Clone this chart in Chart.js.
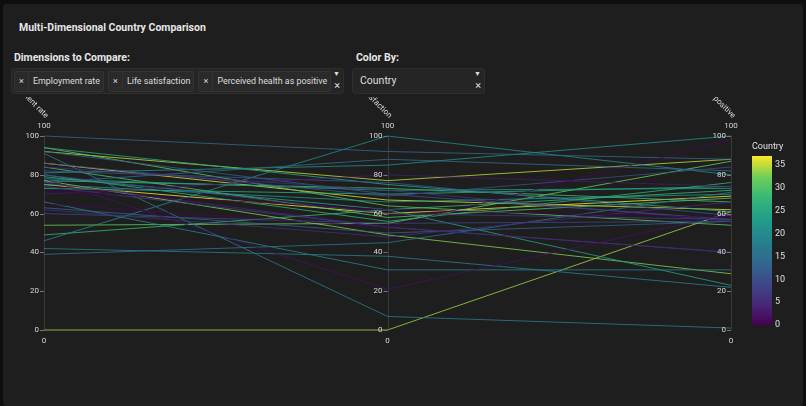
<!DOCTYPE html>
<html>
<head>
<meta charset="utf-8">
<script src="https://cdn.jsdelivr.net/npm/chart.js@4/dist/chart.umd.min.js"></script>
<style>
  html, body { margin: 0; padding: 0; background: #0e0e0e; }
  body { width: 806px; height: 406px; overflow: hidden; font-family: Roboto, "Noto Sans", sans-serif; color: #e6e6e6; }
  #card { position: absolute; left: 3px; top: 4px; width: 800px; height: 402px; background: #1e1e1e; border-radius: 3px; }
  .title { position: absolute; left: 19px; top: 21px; font-size: 10.5px; font-weight: bold; }
  .label { position: absolute; top: 51px; font-size: 10.5px; font-weight: bold; }
  .box { position: absolute; top: 68px; height: 24px; background: #252525; border: 1px solid #2e2e2e; border-radius: 3px; font-size: 10.5px; }
  .chips { position: absolute; left: 2px; top: 2px; display: flex; gap: 4px; }
  .chip { height: 19px; line-height: 19px; background: #2a2a2a; border: 1px solid #333; border-radius: 2px; color: #ddd; white-space: nowrap; font-size: 8.9px; padding-right: 3px; }
  .chip .x { display: inline-block; width: 13px; text-align: center; border-right: 1px solid #333; margin-right: 4px; font-size: 9px; }
  .arrow { position: absolute; right: 3px; top: 1px; font-size: 7px; color: #ddd; }
  .clr { position: absolute; right: 3px; top: 10px; font-size: 11px; color: #ddd; }
  #wrap { position: absolute; left: 0; top: 97px; width: 806px; height: 309px; }
</style>
</head>
<body>
<div id="card"></div>
<div class="title">Multi-Dimensional Country Comparison</div>
<div class="label" style="left:14px">Dimensions to Compare:</div>
<div class="label" style="left:356px">Color By:</div>
<div class="box" style="left:11px; width:331px">
  <div class="chips">
    <div class="chip"><span class="x">×</span>Employment rate</div>
    <div class="chip"><span class="x">×</span>Life satisfaction</div>
    <div class="chip"><span class="x">×</span>Perceived health as positive</div>
  </div>
  <div class="arrow">▼</div><div class="clr">×</div>
</div>
<div class="box" style="left:352px; width:131px">
  <div style="position:absolute; left:7px; top:5px; color:#ddd">Country</div>
  <div class="arrow">▼</div><div class="clr">×</div>
</div>
<div id="wrap"><canvas id="pc"></canvas></div>
<script>
// Các chiều so sánh
const dimensions = ['Employment rate', 'Life satisfaction', 'Perceived health as positive'];
const axisTicks = [0, 20, 40, 60, 80, 100];
const colorbarTicks = [0, 5, 10, 15, 20, 25, 30, 35];

// Giá trị từng quốc gia (chỉ số 0..37)
const employment = [72, 65, 78, 70, 76, 62, 84, 80, 74, 60, 86, 82, 92, 63, 100, 76, 39, 91, 42, 66,
                    46, 81, 75, 78, 79, 94, 73, 80, 49, 77, 84, 94, 54, 77, 0, 92, 86, 75];
const lifeSatisfaction = [62, 53, 21, 80, 53, 48, 72, 60, 53, 55, 69, 76, 70, 50, 92, 88, 45, 7, 38, 31,
                          100, 85, 66, 72, 62, 75, 70, 56, 62, 73, 58, 64, 55, 49, 0, 77, 67, 60];
const perceivedHealth = [58, 98, 60, 74, 40, 66, 56, 57, 40, 56, 84, 59, 57, 56, 88, 82, 71, 1, 22, 31,
                         80, 100, 70, 73, 23, 61, 74, 76, 72, 66, 68, 54, 87, 29, 61, 88, 62, 69];
const colorMax = 37;

// Bảng màu Viridis
const viridis = ['#440154', '#482878', '#3e4989', '#31688e', '#26828e', '#1f9e89', '#35b779', '#6ece58', '#fde725'];

function hexToRgb(h) {
    return [parseInt(h.slice(1, 3), 16), parseInt(h.slice(3, 5), 16), parseInt(h.slice(5, 7), 16)];
}

function viridisColor(t, alpha) {
    t = Math.max(0, Math.min(1, t));
    const pos = t * (viridis.length - 1);
    const i = Math.min(Math.floor(pos), viridis.length - 2);
    const f = pos - i;
    const a = hexToRgb(viridis[i]), b = hexToRgb(viridis[i + 1]);
    const c = a.map((v, k) => Math.round(v + (b[k] - v) * f));
    return `rgba(${c[0]},${c[1]},${c[2]},${alpha})`;
}

const datasets = employment.map((e, i) => ({
    label: 'Country ' + i,
    data: [e, lifeSatisfaction[i], perceivedHealth[i]],
    borderColor: viridisColor(i / colorMax, 0.8),
    borderWidth: 1,
    pointRadius: 0,
    tension: 0,
    clip: false
}));

// Vẽ trục dọc, nhãn và thanh màu
const parcoordsPlugin = {
    id: 'parcoords',
    beforeDatasetsDraw(chart) {
        const { ctx, scales: { x, y } } = chart;
        ctx.save();
        ctx.strokeStyle = '#3a3a3a';
        ctx.lineWidth = 1;
        dimensions.forEach((d, i) => {
            const px = Math.round(x.getPixelForValue(i)) + 0.5;
            ctx.beginPath();
            ctx.moveTo(px, y.getPixelForValue(100));
            ctx.lineTo(px, y.getPixelForValue(0));
            ctx.stroke();
        });
        ctx.restore();
    },
    afterDatasetsDraw(chart) {
        const { ctx, scales: { x, y } } = chart;
        ctx.save();
        ctx.font = '8px Roboto, sans-serif';
        ctx.fillStyle = '#d8d8d8';
        dimensions.forEach((d, i) => {
            const px = x.getPixelForValue(i);
            // vạch chia
            ctx.textAlign = 'right';
            ctx.textBaseline = 'middle';
            axisTicks.forEach(t => {
                const py = y.getPixelForValue(t);
                ctx.strokeStyle = '#777';
                ctx.beginPath();
                ctx.moveTo(px - 4, Math.round(py) + 0.5);
                ctx.lineTo(px, Math.round(py) + 0.5);
                ctx.stroke();
                ctx.fillText(String(t), px - 5, py);
            });
            // nhãn khoảng giá trị
            ctx.textAlign = 'center';
            ctx.fillText('100', px, y.getPixelForValue(100) - 10);
            ctx.fillText('0', px, y.getPixelForValue(0) + 11);
            // tiêu đề trục xoay
            ctx.save();
            ctx.translate(px + 3, y.getPixelForValue(100) - 19);
            ctx.rotate(Math.PI / 4);
            ctx.textAlign = 'right';
            ctx.font = '8px Roboto, sans-serif';
            ctx.fillText(d, 0, 0);
            ctx.restore();
        });

        // Thanh màu Country
        const cbLeft = 752, cbW = 20;
        const cbTop = 59, cbBottom = 228;
        const grad = ctx.createLinearGradient(0, cbBottom, 0, cbTop);
        viridis.forEach((c, k) => grad.addColorStop(k / (viridis.length - 1), c));
        ctx.fillStyle = grad;
        ctx.fillRect(cbLeft, cbTop, cbW, cbBottom - cbTop);
        ctx.font = '9px Roboto, sans-serif';
        ctx.fillStyle = '#e0e0e0';
        ctx.textAlign = 'left';
        ctx.textBaseline = 'middle';
        colorbarTicks.forEach(t => {
            const py = cbBottom - (t / colorMax) * (cbBottom - cbTop);
            ctx.fillText(String(t), cbLeft + cbW + 3, py);
        });
        ctx.font = '9px Roboto, sans-serif';
        ctx.fillText('Country', cbLeft, cbTop - 9);
        ctx.restore();
    }
};

new Chart(document.getElementById('pc'), {
    type: 'line',
    data: { labels: dimensions, datasets: datasets },
    options: {
        responsive: true,
        maintainAspectRatio: false,
        animation: false,
        layout: { padding: { left: 44, right: 75, top: 39, bottom: 76 } },
        scales: {
            x: { display: false, offset: false },
            y: { display: false, min: 0, max: 100 }
        },
        plugins: { legend: { display: false }, tooltip: { enabled: false } }
    },
    plugins: [parcoordsPlugin]
});
</script>
</body>
</html>
